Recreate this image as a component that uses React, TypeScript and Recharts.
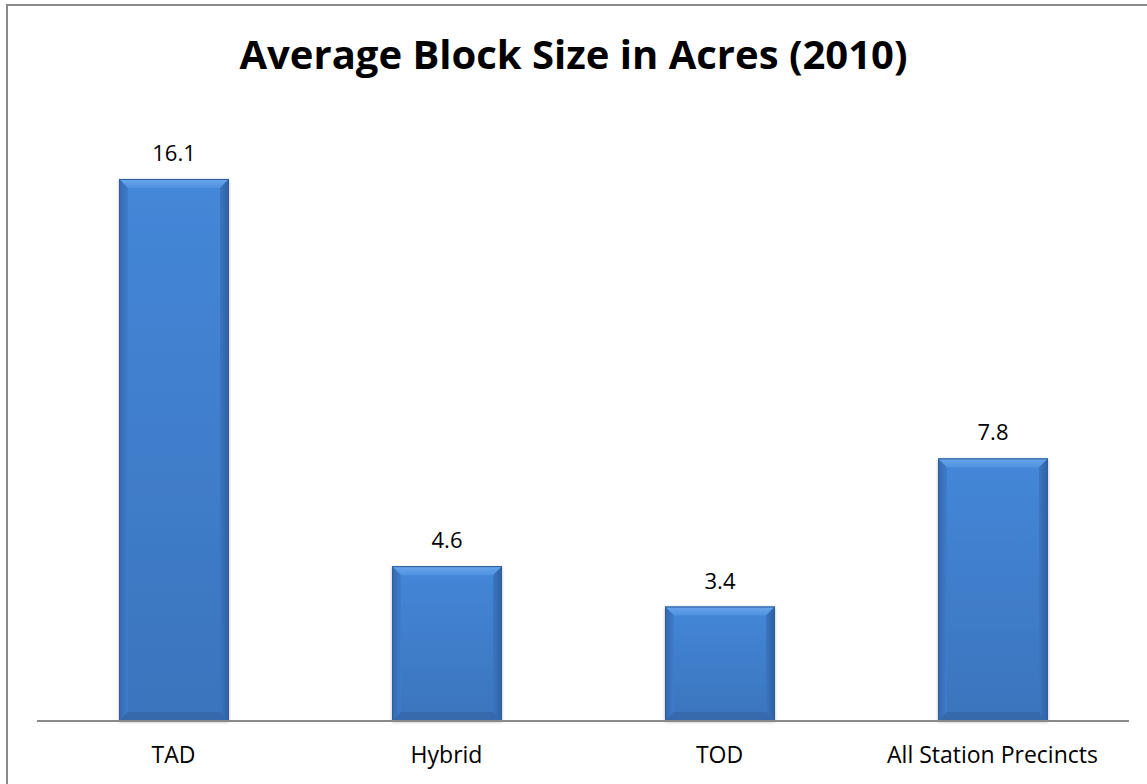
import React from 'react';
import { BarChart, Bar, XAxis, YAxis, LabelList } from 'recharts';

const categories = ['TAD', 'Hybrid', 'TOD', 'All Station Precincts'];
const blockSizes = [16.1, 4.6, 3.4, 7.8];

const data = categories.map((name, i) => ({ name, value: blockSizes[i] }));

const W = 1147;
const H = 784;
const FONT = '"Open Sans", "DejaVu Sans", sans-serif';

// Excel-style bevelled bar
const BevelBar = (props: any) => {
  const { x, y, width, height } = props;
  if (!height || height <= 0) return null;
  const b = Math.min(9, width / 2, height / 2);
  const r = x + width;
  const btm = y + height;
  return (
    <g filter="url(#barShadow)">
      <rect x={x} y={y} width={width} height={height} fill="url(#barBody)" />
      <polygon
        points={`${x},${y} ${r},${y} ${r - b},${y + b} ${x + b},${y + b}`}
        fill="url(#bevelTop)"
      />
      <polygon
        points={`${x},${y} ${x + b},${y + b} ${x + b},${btm - b} ${x},${btm}`}
        fill="url(#bevelLeft)"
      />
      <polygon
        points={`${r},${y} ${r - b},${y + b} ${r - b},${btm - b} ${r},${btm}`}
        fill="url(#bevelRight)"
      />
      <polygon
        points={`${x},${btm} ${x + b},${btm - b} ${r - b},${btm - b} ${r},${btm}`}
        fill="#2f619f"
        opacity={0.55}
      />
      <rect
        x={x + 0.5}
        y={y + 0.5}
        width={width - 1}
        height={height - 1}
        fill="none"
        stroke="#2d5f9c"
        strokeWidth={1}
      />
    </g>
  );
};

const CategoryTick = (props: any) => {
  const { x, y, payload } = props;
  return (
    <text
      x={x}
      y={y + 42}
      textAnchor="middle"
      fontFamily={FONT}
      fontSize={23}
      fill="#000"
    >
      {payload.value}
    </text>
  );
};

export default function App() {
  return (
    <div
      style={{
        position: 'absolute',
        left: 0,
        top: 0,
        width: W,
        height: H,
        background: '#fff',
        overflow: 'hidden',
      }}
    >
      <BarChart
        width={W}
        height={H}
        data={data}
        margin={{ top: 115, right: 18, bottom: 0, left: 37 }}
      >
        <defs>
          <linearGradient id="barBody" x1="0" y1="0" x2="0" y2="1">
            <stop offset="0%" stopColor="#4487d8" />
            <stop offset="100%" stopColor="#3b74bd" />
          </linearGradient>
          <linearGradient id="bevelTop" x1="0" y1="0" x2="0" y2="1">
            <stop offset="0%" stopColor="#6aa6ea" />
            <stop offset="100%" stopColor="#4f92e0" />
          </linearGradient>
          <linearGradient id="bevelLeft" x1="0" y1="0" x2="1" y2="0">
            <stop offset="0%" stopColor="#3468ad" />
            <stop offset="100%" stopColor="#3f7ccb" />
          </linearGradient>
          <linearGradient id="bevelRight" x1="1" y1="0" x2="0" y2="0">
            <stop offset="0%" stopColor="#2e5f9f" />
            <stop offset="100%" stopColor="#3b76c3" />
          </linearGradient>
          <filter id="barShadow" x="-10%" y="-5%" width="120%" height="110%">
            <feDropShadow dx="0" dy="1" stdDeviation="1.5" floodColor="#000" floodOpacity="0.3" />
          </filter>
        </defs>
        <XAxis
          dataKey="name"
          height={63}
          axisLine={{ stroke: '#8a8a8a', strokeWidth: 2 }}
          tickLine={false}
          tickSize={0}
          tickMargin={0}
          interval={0}
          tick={<CategoryTick />}
        />
        <YAxis hide domain={[0, 18]} />
        <Bar dataKey="value" barSize={110} shape={<BevelBar />} isAnimationActive={false}>
          <LabelList
            dataKey="value"
            position="top"
            offset={18}
            fontFamily={FONT}
            fontSize={22}
            fill="#000"
            formatter={(v: any) => Number(v).toFixed(1)}
          />
        </Bar>
      </BarChart>
      <svg
        width={W}
        height={H}
        style={{ position: 'absolute', left: 0, top: 0, pointerEvents: 'none' }}
      >
        <line x1={7} y1={5} x2={W} y2={5} stroke="#8a8a8a" strokeWidth={2} />
        <line x1={7} y1={4} x2={7} y2={H} stroke="#8a8a8a" strokeWidth={2} />
        <text
          x={W / 2}
          y={69}
          textAnchor="middle"
          fontFamily={FONT}
          fontWeight="bold"
          fontSize={40}
          fill="#000"
        >
          Average Block Size in Acres (2010)
        </text>
      </svg>
    </div>
  );
}
